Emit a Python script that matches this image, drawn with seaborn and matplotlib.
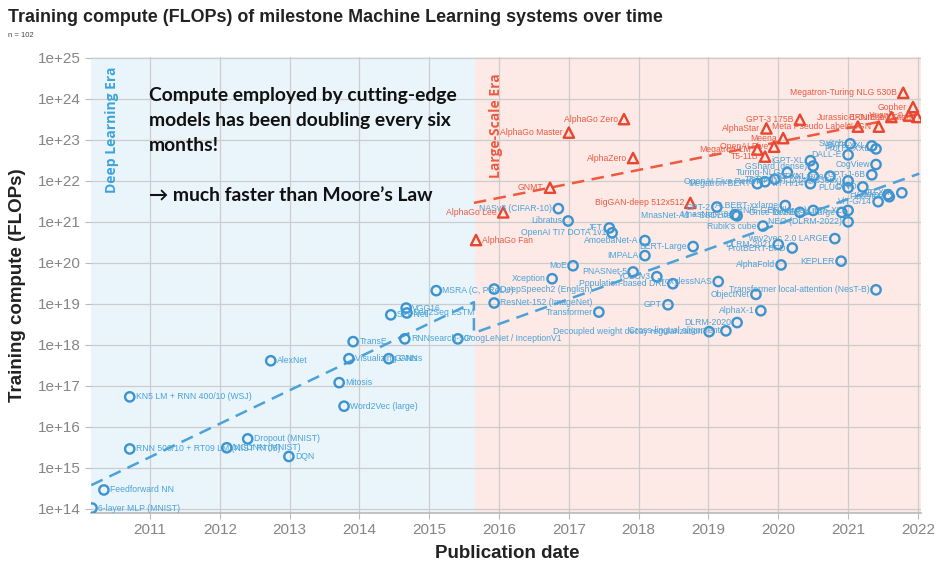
import matplotlib
matplotlib.use('Agg')
import matplotlib.pyplot as plt
import numpy as np
import pandas as pd
import seaborn as sns

# milestone systems, regular scale (blue circles)
regular_names = [
    '6-layer MLP (MNIST)', 'Feedforward NN', 'KN5 LM + RNN 400/10 (WSJ)',
    'RNN 500/10 + RT09 LM (NIST RT05)', 'MCDNN (MNIST)', 'Dropout (MNIST)', 'DQN',
    'AlexNet', 'Mitosis', 'Word2Vec (large)', 'Visualizing CNNs', 'TransE', 'GANs',
    'SPPNet', 'VGG16', 'Seq2Seq LSTM', 'RNNsearch-50*', 'GoogLeNet / InceptionV1',
    'MSRA (C, PReLU)', 'DeepSpeech2 (English)', 'ResNet-152 (ImageNet)', 'Xception',
    'MoE', 'Transformer', 'NASv3 (CIFAR-10)', 'Libratus', 'OpenAI TI7 DOTA 1v1', 'JFT',
    'AmoebaNet-A', 'BERT-Large', 'IMPALA', 'PNASNet-5', 'YOLOv3',
    'Population-based DRL', 'ProxylessNAS', 'GPT',
    'Decoupled weight decay regularization', 'Cross-lingual alignment', 'DLRM-2020',
    'AlphaX-1', 'ObjectNet', 'Transformer local-attention (NesT-B)', 'AlphaFold',
    'KEPLER', 'wav2vec 2.0 LARGE', 'DLRM-2021', 'ProtBERT-BFD', 'NEO (DLRM-2022)',
    "Rubik's cube", 'MnasNet-A1 + SSDLite', 'MnasNet-A3', 'GPT-2', 'ALBERT-xxlarge',
    'Once for All', 'ERNIE-GEN (large)', 'DeBERTa-Large', 'mT5-XL',
    'Megatron-BERT', 'OpenAI Five Rerun', 'T5-3B', 'Turing-NLG', 'iGPT-XL',
    'GShard (dense)', 'ViT-H/14', 'mT5-XXL', 'CPM-Large', 'Switch', 'ByT5-XXL',
    'ProtT5-XXL', 'DALL-E', 'CogView', 'GPT-J-6B', 'CLIP (ViT L/14@336px)', 'PLUG',
    'DINO', 'ViT-G/14', 'Codex', 'Florence', 'T0-XXL',
]
regular_years = [
    2010.17, 2010.34, 2010.71, 2010.71, 2012.10, 2012.40, 2012.99,
    2012.73, 2013.71, 2013.78, 2013.85, 2013.91, 2014.42,
    2014.45, 2014.67, 2014.68, 2014.65, 2015.41,
    2015.10, 2015.93, 2015.93, 2016.76,
    2017.06, 2017.43, 2016.85, 2016.99, 2017.62, 2017.58,
    2018.09, 2018.78, 2018.09, 2017.92, 2018.26,
    2018.49, 2019.14, 2018.42,
    2019.01, 2019.25, 2019.41,
    2019.75, 2019.68, 2021.40, 2020.04,
    2020.90, 2020.81, 2020.00, 2020.20, 2021.00,
    2019.78, 2019.41, 2019.38, 2019.12, 2020.10,
    2020.31, 2020.50, 2020.91, 2021.00,
    2019.70, 2019.81, 2019.95, 2020.13, 2020.46,
    2020.50, 2020.46, 2020.50, 2020.74, 2021.03, 2021.34,
    2021.40, 2021.00, 2021.40, 2021.34, 2021.00, 2021.00,
    2021.21, 2021.43, 2021.57, 2021.59, 2021.77,
]
regular_flops = [
    1.05e14, 2.9e14, 5.4e16, 2.9e15, 3.1e15, 5.1e15, 1.9e15,
    4.1e17, 1.2e17, 3.2e16, 4.6e17, 1.2e18, 4.6e17,
    5.4e18, 7.9e18, 6.0e18, 1.4e18, 1.4e18,
    2.1e19, 2.3e19, 1.05e19, 4.1e19,
    8.5e19, 6.3e18, 2.1e21, 1.05e21, 5.4e20, 7.1e20,
    3.5e20, 2.5e20, 1.5e20, 6.0e19, 4.6e19,
    3.1e19, 3.5e19, 9.5e18,
    2.1e18, 2.2e18, 3.5e18,
    6.8e18, 1.7e19, 2.2e19, 8.9e19,
    1.1e20, 3.9e20, 2.8e20, 2.3e20, 1.0e21,
    7.9e20, 1.4e21, 1.5e21, 2.3e21, 2.5e21,
    1.7e21, 1.9e21, 1.7e21, 1.9e21,
    8.5e21, 9.5e21, 1.1e22, 1.6e22, 3.1e22,
    2.3e22, 8.5e21, 1.3e22, 1.3e22, 8.0e22, 7.1e22,
    6.0e22, 4.3e22, 2.5e22, 1.4e22, 1.0e22, 6.8e21,
    7.1e21, 3.1e21, 4.6e21, 4.1e21, 5.1e21,
]

# large-scale systems (red triangles)
large_names = [
    'AlphaGo Fan', 'AlphaGo Lee', 'GNMT', 'AlphaGo Master', 'AlphaGo Zero',
    'AlphaZero', 'BigGAN-deep 512x512', 'Megatron-LM', 'OpenAI Five', 'T5-11B',
    'AlphaStar', 'Meena', 'GPT-3 175B', 'Meta Pseudo Labels', 'ALIGN',
    'Jurassic-1-Jumbo', 'Yuan 1.0', 'Megatron-Turing NLG 530B', 'Gopher',
    'ERNIE 3.0 Titan',
]
large_years = [
    2015.67, 2016.06, 2016.73, 2017.00, 2017.79,
    2017.92, 2018.74, 2019.70, 2019.94, 2019.81,
    2019.83, 2020.07, 2020.31, 2021.14, 2021.44,
    2021.62, 2021.87, 2021.79, 2021.93,
    2021.99,
]
large_flops = [
    3.6e20, 1.7e21, 6.8e21, 1.5e23, 3.2e23,
    3.6e22, 2.9e21, 5.8e22, 6.8e22, 3.9e22,
    1.9e23, 1.1e23, 3.1e23, 2.1e23, 2.1e23,
    3.6e23, 3.9e23, 1.4e24, 6.3e23,
    3.6e23,
]

# fitted trends
blue_trend_years = [2010.16, 2015.64, 2015.64, 2022.02]
blue_trend_flops = [3.8e14, 1.1e19, 1.95e18, 1.5e22]
red_trend_years = [2015.64, 2022.02]
red_trend_flops = [2.9e21, 4.3e23]

era_split = 2015.65
year_ticks = list(range(2011, 2023))
flop_exps = list(range(14, 26))

BLUE = '#3b94cf'
BLUE_TXT = '#4aa2d8'
RED = '#e8462e'
RED_TXT = '#ec5a44'
BLUE_BG = '#e9f5fb'
PINK_BG = '#fde9e5'

sns.set_theme(style='white')
plt.rcParams['font.family'] = ['Liberation Sans', 'DejaVu Sans']

df_reg = pd.DataFrame({'name': regular_names, 'year': regular_years, 'flops': regular_flops})
df_large = pd.DataFrame({'name': large_names, 'year': large_years, 'flops': large_flops})

fig = plt.figure(figsize=(9.38, 5.67), dpi=100)
ax = fig.add_axes([0.097, 0.0952, 0.885, 0.8043])

xmin, xmax = 2010.155, 2022.046
ax.axvspan(xmin, era_split, color=BLUE_BG, zorder=0, lw=0)
ax.axvspan(era_split, xmax, color=PINK_BG, zorder=0, lw=0)

ax.set_yscale('log')
ax.set_xlim(xmin, xmax)
ax.set_ylim(10 ** 13.9, 10 ** 25.02)

ax.grid(True, which='major', color='#cdcdcd', lw=0.9, zorder=0.5)
ax.minorticks_off()

# trend lines
ax.plot(blue_trend_years, blue_trend_flops, ls=(0, (5, 3)), color=BLUE_TXT, lw=1.8, zorder=3)
ax.plot(red_trend_years, red_trend_flops, ls=(0, (5, 3)), color='#ee5a40', lw=1.8, zorder=3)

# points
sns.scatterplot(data=df_reg, x='year', y='flops', marker='o', s=45,
                facecolors='none', edgecolor=BLUE, linewidth=1.7, ax=ax, zorder=4)
pc = ax.collections[-1]
pc.set_facecolor('none'); pc.set_edgecolor(BLUE)
sns.scatterplot(data=df_large, x='year', y='flops', marker='^', s=55,
                facecolors='none', edgecolor=RED, linewidth=1.7, ax=ax, zorder=4)
pc = ax.collections[-1]
pc.set_facecolor('none'); pc.set_edgecolor(RED)

def label_points(df, color):
    for _, r in df.iterrows():
        right = r['year'] < 2016.0
        ax.annotate(r['name'], (r['year'], r['flops']),
                    xytext=(4.5 if right else -4.5, 0), textcoords='offset points',
                    ha='left' if right else 'right', va='center',
                    fontsize=6.2, color=color, zorder=5)

label_points(df_reg, BLUE_TXT)
label_points(df_large, RED_TXT)

ax.set_xticks(year_ticks)
ax.set_xticklabels([str(y) for y in year_ticks])
ax.set_yticks([10.0 ** e for e in flop_exps])
ax.set_yticklabels(['1e+%d' % e for e in flop_exps])
ax.tick_params(axis='both', labelsize=11, labelcolor='#858585', color='#bbbbbb',
               length=4, width=0.8, bottom=True, left=True)
ax.set_xlabel('')
ax.set_ylabel('')
for s in ['top', 'right', 'left']:
    ax.spines[s].set_visible(False)
ax.spines['bottom'].set_color('#bbbbbb')

# era labels
ax.text(0.025, 0.978, 'Deep Learning Era', transform=ax.transAxes, rotation=90,
        ha='center', va='top', color='#3ea3dc', fontsize=10, fontweight='bold',
        family=['Open Sans', 'DejaVu Sans'])
ax.text(0.488, 0.965, 'Large-Scale Era', transform=ax.transAxes, rotation=90,
        ha='center', va='top', color='#ee5a40', fontsize=10, fontweight='bold',
        family=['Open Sans', 'DejaVu Sans'])

# annotation
fig.text(149 / 938, 1 - 87 / 567,
         'Compute employed by cutting-edge\nmodels has been doubling every six\nmonths!\n\n'
         '\u2192 much faster than Moore\u2019s Law',
         ha='left', va='top', fontsize=13.9, fontweight='bold', color='#111111',
         linespacing=1.58, family=['Lato', 'DejaVu Sans'])

# titles and axis labels
fig.text(8 / 938, 1 - 22 / 567,
         'Training compute (FLOPs) of milestone Machine Learning systems over time',
         ha='left', va='baseline', fontsize=12.9, fontweight='bold', color='#222222')
fig.text(8 / 938, 1 - 37 / 567, 'n = 102', ha='left', va='baseline', fontsize=5.5,
         color='#444444')
fig.text(18 / 938, 1 - 285 / 567, 'Training compute (FLOPs)', rotation=90,
         ha='center', va='center', fontsize=13.5, fontweight='bold', color='#222222')
fig.text(507 / 938, 1 - 553 / 567, 'Publication date', ha='center', va='center',
         fontsize=13.5, fontweight='bold', color='#222222')

fig.savefig('out.png', dpi=100)
